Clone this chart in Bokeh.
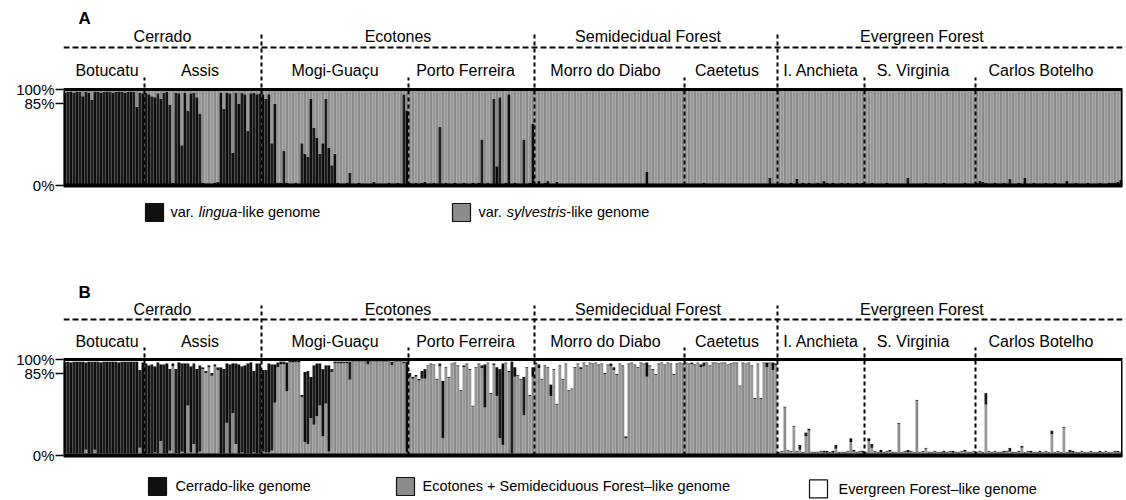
import numpy as np
from bokeh.plotting import figure
from bokeh.models import Range1d, FixedTicker, NumeralTickFormatter
from bokeh.layouts import column
from bokeh.core.properties import value
from bokeh.embed import file_html
from bokeh.resources import INLINE

# ---------------- data ----------------
populations = ["Botucatu", "Assis", "Mogi-Guaçu", "Porto Ferreira", "Morro do Diabo",
               "Caetetus", "I. Anchieta", "S. Virginia", "Carlos Botelho"]
regions = ["Cerrado", "Ecotones", "Semidecidual Forest", "Evergreen  Forest"]
region_last_pop = [1, 3, 5, 8]
tick_values = [0, 0.85, 1]

# Panel A: % var. lingua-like genome per individual (rest = var. sylvestris-like)
lingua_botucatu = [97,98,98,97,98,98,93,98,97,89,98,98,97,98,98,98,97,98,98,98,97,98,98,98,82,97,96]
lingua_assis = [97,95,93,92,96,90,97,98,84,3,97,96,42,97,78,96,97,92,75,3,2,2,2,3,4,97,80,97,96,34,97,85,97,95,57,96,97,95,96]
lingua_mogi = [95,90,95,44,85,3,3,36,3,2,2,3,2,44,33,30,90,60,50,33,44,90,39,21,33,3,2,2,3,13,2,2,3,2,2,2,2,4,2,2,2,2,3,2,2,3,2,95,78]
lingua_porto = [3,2,3,2,3,4,2,2,3,2,61,2,3,2,2,3,2,2,3,2,2,3,2,3,48,2,3,2,90,20,92,2,3,95,2,3,2,2,48,2,3,64]
lingua_morro = [2,5,2,3,5,2,2,4,2,2,1,2,2,1,2,2,2,1,2,2,2,1,2,2,2,2,1,2,2,2,2,2,1,2,2,2,2,14,2,2,2,1,2,2,2,2,1,2,2,2]
lingua_caetetus = [2,2,1,2,2,2,3,2,2,1,2,2,2,2,1,2,2,2,2,2,1,2,2,2,2,2,2,2,8,2,2]
lingua_anchieta = [2,3,2,2,3,2,7,2,3,2,3,2,2,3,2,5,3,2,3,2,2,3,2,3,2,2,3,2,3]
lingua_virginia = [2,2,3,2,2,2,2,3,2,2,2,2,2,2,8,2,2,2,2,2,3,2,2,2,2,2,3,2,2,2,2,2,2,3,2,2,2]
lingua_botelho = [3,5,4,3,2,2,3,2,2,3,2,7,2,2,3,2,8,2,2,3,2,2,2,3,2,2,3,2,2,2,5,2,2,3,2,2,2,3,2,2,2,3,2,2,3,3,3,4,6]

# Panel B: % Cerrado-like (black) and % Evergreen Forest-like (white); rest = Ecotones+Semideciduous-like (gray)
cerrado_botucatu = [96,96,95,96,96,96,96,91,96,96,92,96,95,96,96,96,96,96,95,96,96,96,96,96,96,81,95]
evergreen_botucatu = [2,2,3,2,2,2,2,3,2,2,2,2,3,2,2,2,2,2,3,2,2,2,2,2,2,11,3]
cerrado_assis = [94,92,93,90,95,80,93,94,85,3,88,95,92,94,44,90,84,88,90,2,2,2,3,2,3,90,88,62,93,52,84,93,90,92,94,95,85,94,94]
evergreen_assis = [4,6,5,7,3,5,5,4,10,4,10,3,4,4,4,7,4,10,6,8,12,6,14,5,8,8,10,4,5,4,4,5,7,6,4,3,12,4,4]
cerrado_mogi = [85,86,93,90,40,5,3,3,30,2,2,2,2,2,73,76,43,62,55,44,70,40,90,3,2,2,2,2,2,19,1,1,1,1,1,4,1,1,1,1,1,1,1,4,1,1,1,2,95]
evergreen_mogi = [11,11,4,5,5,3,2,2,3,1,1,1,1,37,13,12,18,6,4,4,10,6,6,10,2,2,2,2,2,2,1,1,1,1,1,1,1,1,1,1,1,1,1,2,1,1,1,2,2]
cerrado_porto = [4,2,2,2,8,10,1,1,1,1,3,60,1,1,1,1,1,1,2,1,1,1,1,1,3,45,1,1,2,30,72,85,1,1,96,10,1,1,40,1,1,10]
evergreen_porto = [14,18,16,20,12,10,6,4,5,20,4,22,8,18,4,3,6,32,6,4,10,48,8,4,6,5,3,35,4,8,10,4,3,12,2,8,16,20,18,8,37,8]
cerrado_morro = [2,4,1,1,1,12,1,1,1,1,1,1,1,1,1,2,1,1,1,1,1,1,1,1,1,3,3,1,1,1,2,1,1,1,1,1,1,15,1,1,1,1,1,1,1,1,1,1,1,1]
evergreen_morro = [3,5,20,6,8,26,10,46,6,20,4,32,30,8,4,8,3,6,3,4,3,5,4,14,5,4,8,15,4,6,80,4,3,5,8,3,4,3,6,10,15,4,3,5,3,4,15,4,3,4]
cerrado_caetetus = [1,1,2,1,1,3,4,1,1,1,1,1,1,1,1,1,1,1,1,1,1,1,1,1,1,1,1,5,1,8,2]
evergreen_caetetus = [3,4,3,5,3,5,3,3,6,3,3,4,3,3,5,4,3,3,27,3,4,3,6,40,4,40,3,3,3,3,4]
cerrado_anchieta = [1,1,1,1,1,1,1,5,1,4,2,1,1,1,1,2,2,1,2,4,1,1,1,1,4,2,1,1,2]
evergreen_anchieta = [96,95,49,94,95,69,95,89,96,76,72,96,96,96,95,95,95,96,95,89,96,96,96,95,82,94,96,95,95]
cerrado_virginia = [1,3,4,1,1,3,1,1,2,1,1,1,1,1,3,1,1,1,1,1,1,1,1,1,1,1,2,1,1,2,1,1,1,2,1,1,1]
evergreen_virginia = [96,82,88,95,96,94,96,95,94,96,96,66,96,95,94,95,96,42,96,95,92,96,96,95,96,96,95,96,95,95,96,96,95,94,96,96,95]
cerrado_botelho = [1,1,1,12,1,1,1,1,1,2,1,4,1,1,1,2,1,1,2,1,1,2,1,1,1,4,1,1,1,1,1,3,2,1,1,1,1,1,1,1,1,2,1,1,1,1,1,2,1]
evergreen_botelho = [96,95,96,35,95,96,95,96,96,95,95,92,96,96,95,90,96,95,95,96,96,95,96,95,96,74,96,95,96,70,96,94,95,96,96,95,96,96,95,96,96,95,96,95,96,96,95,95,96]

A_series = [lingua_botucatu, lingua_assis, lingua_mogi, lingua_porto, lingua_morro,
            lingua_caetetus, lingua_anchieta, lingua_virginia, lingua_botelho]
B_black = [cerrado_botucatu, cerrado_assis, cerrado_mogi, cerrado_porto, cerrado_morro,
           cerrado_caetetus, cerrado_anchieta, cerrado_virginia, cerrado_botelho]
B_white = [evergreen_botucatu, evergreen_assis, evergreen_mogi, evergreen_porto, evergreen_morro,
           evergreen_caetetus, evergreen_anchieta, evergreen_virginia, evergreen_botelho]

# ---------------- style ----------------
FONT = value("Liberation Sans")
BLACKS = ["#0d0d0d", "#1c1c1c"]
GRAYS = ["#8b8b8b", "#979797"]
WHITES = ["#ffffff", "#ffffff"]

counts = [len(v) for v in A_series]
bounds = np.cumsum([0] + counts)
N = int(bounds[-1])
PX = 3.0  # pixels per individual (frame 1059 px / N)

region_label_off = [0, 0, -8, -26]
pop_label_off = [3, -3, 0, -6, -4, -4, 0, -7, -8]


def txt(p, x, y, s, size="16px", style="normal", align="center", xoff=0):
    p.text(x=[x], y=[y], text=[s], text_font=FONT, text_font_size=size,
           text_font_style=style, text_align=align, text_baseline="middle",
           x_offset=xoff, text_color="black")


def make_panel(letter, y_top, y_bot, stacks, y_letter, y_region, y_hline, y_regsep, y_pop, y_popsep):
    p = figure(width=1126, height=250, x_range=Range1d(0, N), y_range=Range1d(y_bot, y_top),
               output_backend="svg", toolbar_location=None, x_axis_type=None,
               min_border_left=63, min_border_right=4, min_border_top=0, min_border_bottom=0)
    p.outline_line_color = None
    p.ygrid.visible = False
    p.background_fill_color = "white"
    ax = p.yaxis[0]
    ax.ticker = FixedTicker(ticks=tick_values)
    ax.formatter = NumeralTickFormatter(format="0%")
    ax.axis_line_color = None
    ax.major_tick_line_color = "black"
    ax.major_tick_line_width = 1.5
    ax.major_tick_out = 8
    ax.major_tick_in = 0
    ax.minor_tick_line_color = None
    ax.major_label_text_font = "Liberation Sans"
    ax.major_label_text_font_size = "15px"
    ax.major_label_text_color = "black"
    ax.major_label_standoff = 1

    left, right, bottom, top, color = [], [], [], [], []
    idx = 0
    for pi in range(len(populations)):
        for j in range(counts[pi]):
            segs = stacks(pi, j)
            base = 0.0
            for frac, pal in segs:
                left.append(idx); right.append(idx + 1)
                bottom.append(base); top.append(min(1.0, base + frac))
                color.append(pal[idx % 2])
                base += frac
            idx += 1
    p.quad(left=left, right=right, bottom=bottom, top=top, fill_color=color, line_color=None)

    # separators
    reg_b = [int(bounds[region_last_pop[k] + 1]) for k in range(3)]
    pop_b = [int(b) for b in bounds[1:-1] if int(b) not in reg_b]
    p.segment(x0=reg_b, y0=[0] * 3, x1=reg_b, y1=[y_regsep] * 3, line_color="black",
              line_width=2, line_dash="4 3")
    p.segment(x0=pop_b, y0=[0] * len(pop_b), x1=pop_b, y1=[y_popsep] * len(pop_b),
              line_color="black", line_width=2, line_dash="4 3")
    p.segment(x0=[0], y0=[y_hline], x1=[N], y1=[y_hline], line_color="black",
              line_width=2, line_dash="6 3")
    # frame box
    p.quad(left=[0], right=[N], bottom=[0], top=[1], fill_color=None, line_color="black", line_width=3)
    p.segment(x0=[0], y0=[0], x1=[N], y1=[0], line_color="black", line_width=4)

    # labels
    txt(p, 0, y_letter, letter, size="17px", style="bold", align="left", xoff=15)
    for k, r in enumerate(regions):
        first = 0 if k == 0 else region_last_pop[k - 1] + 1
        xm = (bounds[first] + bounds[region_last_pop[k] + 1]) / 2
        txt(p, xm, y_region, r, xoff=region_label_off[k])
    for k, name in enumerate(populations):
        xm = (bounds[k] + bounds[k + 1]) / 2
        txt(p, xm, y_pop, name, xoff=pop_label_off[k])
    return p


def stacks_A(pi, j):
    f = A_series[pi][j] / 100
    return [(f, BLACKS), (1 - f, GRAYS)]


def stacks_B(pi, j):
    b = B_black[pi][j] / 100
    w = B_white[pi][j] / 100
    g = max(0.0, 1 - b - w)
    return [(g, GRAYS), (b, BLACKS), (w, WHITES)]


def px2x(px):
    return (px - 63) / PX


pA = make_panel("A", 1.927, -0.677, stacks_A, y_letter=1.74, y_region=1.552, y_hline=1.4375,
                y_regsep=1.583, y_pop=1.198, y_popsep=1.125)
pB = make_panel("B", 2.135, -0.469, stacks_B, y_letter=1.698, y_region=1.521, y_hline=1.417,
                y_regsep=1.5625, y_pop=1.1875, y_popsep=1.125)

# legends
def swatch(p, xpx, y, fill):
    p.rect(x=[px2x(xpx)], y=[y], width=18, height=18, width_units="screen", height_units="screen",
           fill_color=fill, line_color="#111111", line_width=1.2)

LS = "14.5px"
yLA = -0.281
swatch(pA, 154, yLA, "#111111")
xa = px2x(170)
txt(pA, xa, yLA, "var. ", size=LS, align="left")
txt(pA, xa, yLA, "lingua", size=LS, style="italic", align="left", xoff=28.2)
txt(pA, xa, yLA, "-like genome", size=LS, align="left", xoff=66.9)
swatch(pA, 461, yLA, "#8c8c8c")
xb = px2x(478)
txt(pA, xb, yLA, "var. ", size=LS, align="left")
txt(pA, xb, yLA, "sylvestris", size=LS, style="italic", align="left", xoff=28.2)
txt(pA, xb, yLA, "-like genome", size=LS, align="left", xoff=87.8)

yLB = -0.323
swatch(pB, 157, yLB, "#111111")
txt(pB, px2x(175), yLB, "Cerrado-like genome", size=LS, align="left")
swatch(pB, 405, yLB, "#8c8c8c")
txt(pB, px2x(422), yLB, "Ecotones + Semideciduous Forest\u2013like genome", size=LS, align="left")
swatch(pB, 818, yLB - 0.025, "#ffffff")
txt(pB, px2x(838), yLB - 0.025, "Evergreen Forest\u2013like genome", size=LS, align="left")

layout = column(pA, pB, spacing=0)
open("out.html", "w").write(file_html(layout, INLINE))
